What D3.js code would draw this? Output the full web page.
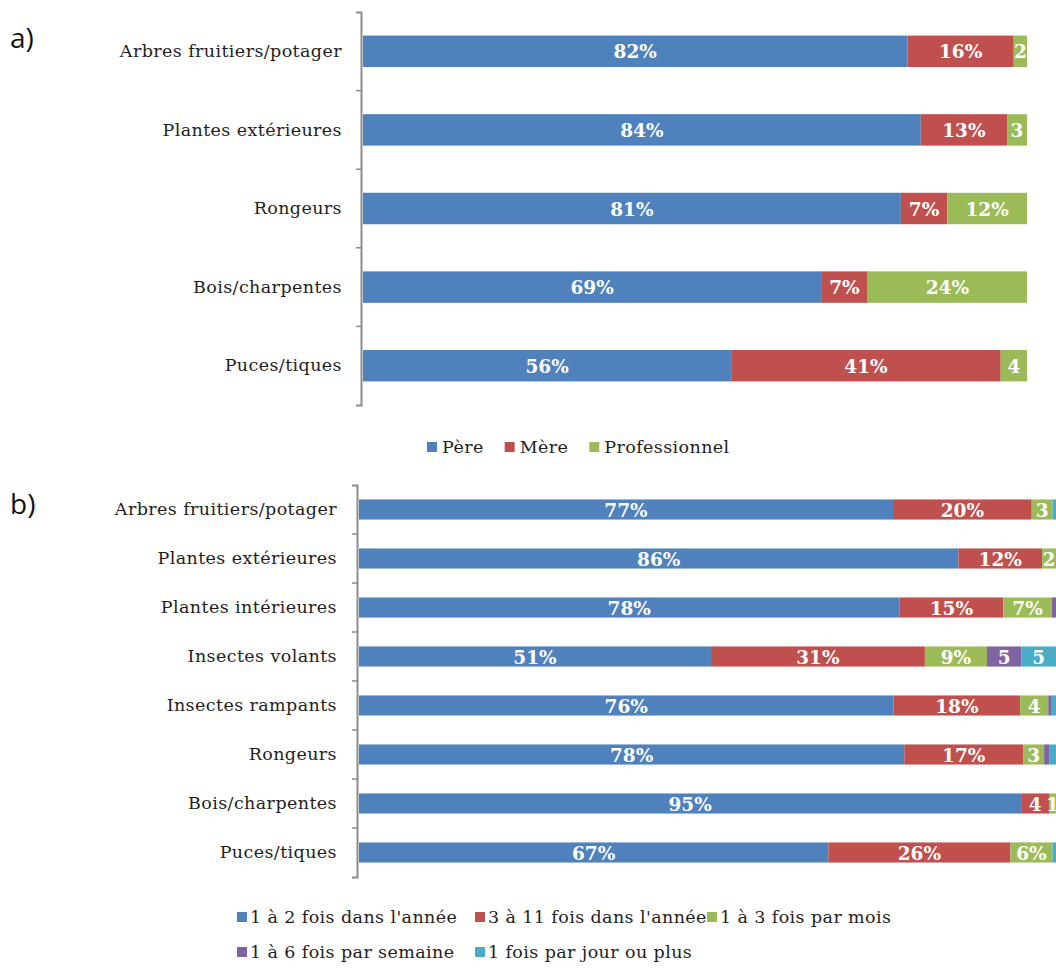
<!DOCTYPE html>
<meta charset="utf-8">
<style>
  body { margin: 0; background: #fff; }
  .seg-label { fill: #fff; font-family: "DejaVu Serif", serif; font-weight: bold; font-size: 18.5px; }
  .cat-axis text { fill: #1e1e1e; font-family: "DejaVu Serif", serif; font-size: 17.5px; letter-spacing: 0.4px; }
  .legend text { fill: #1e1e1e; font-family: "DejaVu Serif", serif; font-size: 17.5px; letter-spacing: 0.4px; }
  .panel-tag { font-family: "Open Sans", sans-serif; font-size: 28px; fill: #111; }
</style>
<svg width="1056" height="969"></svg>
<script src="https://cdnjs.cloudflare.com/ajax/libs/d3/7.8.5/d3.min.js"></script>
<script>
// panel a) : qui traite
var catsA = ["Arbres fruitiers/potager", "Plantes extérieures", "Rongeurs", "Bois/charpentes", "Puces/tiques"];
var seriesA = ["Père", "Mère", "Professionnel"];
var pereA = [82, 84, 81, 69, 56];
var mereA = [16, 13, 7, 7, 41];
var proA = [2, 3, 12, 24, 4];

// panel b) : frequence
var catsB = ["Arbres fruitiers/potager", "Plantes extérieures", "Plantes intérieures", "Insectes volants",
  "Insectes rampants", "Rongeurs", "Bois/charpentes", "Puces/tiques"];
var seriesB = ["1 à 2 fois dans l'année", "3 à 11 fois dans l'année", "1 à 3 fois par mois",
  "1 à 6 fois par semaine", "1 fois par jour ou plus"];
var freq1 = [77, 86, 78, 51, 76, 78, 95, 67];
var freq2 = [20, 12, 15, 31, 18, 17, 4, 26];
var freq3 = [3, 2, 7, 9, 4, 3, 1, 6];
var freq4 = [0, 0, 0.6, 5, 0.5, 0.8, 0, 0];
var freq5 = [0.5, 0, 0, 5, 0.6, 0.9, 0, 0.5];

var colors = ["#4F81BD", "#C0504D", "#9BBB59", "#8064A2", "#4BACC6"];

var svg = d3.select("svg");
svg.append("rect").attr("width", 1056).attr("height", 969).attr("fill", "#fff");

function panel(cfg) {
  var g = svg.append("g");
  var keys = cfg.series.map(function(d, j) { return "s" + j; });
  var rows = cfg.cats.map(function(c, i) {
    var r = {cat: c};
    keys.forEach(function(k, j) { r[k] = cfg.values[j][i]; });
    return r;
  });

  var y = d3.scaleBand()
    .domain(cfg.cats)
    .range([cfg.top, cfg.bottom])
    .paddingInner(cfg.pad)
    .paddingOuter(cfg.pad / 2);

  var x = d3.scaleLinear().domain([0, 1]).range([cfg.x0, cfg.x1]);

  var z = d3.scaleOrdinal().domain(keys).range(colors);

  var stacked = d3.stack().keys(keys).offset(d3.stackOffsetExpand)(rows);

  var layer = g.selectAll(".serie")
    .data(stacked)
    .enter().append("g")
    .attr("class", "serie")
    .attr("fill", function(d) { return z(d.key); });

  layer.selectAll("rect")
    .data(function(d) { return d; })
    .enter().append("rect")
    .attr("x", function(d) { return x(d[0]); })
    .attr("y", function(d) { return y(d.data.cat); })
    .attr("width", function(d) { return x(d[1]) - x(d[0]); })
    .attr("height", y.bandwidth());

  layer.selectAll("text")
    .data(function(d) { return d.map(function(p) { return {p: p, v: p.data[d.key]}; }); })
    .enter().append("text")
    .filter(function(d) { return d.v >= 1; })
    .attr("class", "seg-label")
    .attr("x", function(d) { return (x(d.p[0]) + x(d.p[1])) / 2; })
    .attr("y", function(d) { return y(d.p.data.cat) + y.bandwidth() / 2; })
    .attr("dy", "0.38em")
    .attr("text-anchor", "middle")
    .text(function(d) { return d.v >= 6 ? d.v + "%" : d.v; });

  var ax = g.append("g")
    .attr("class", "cat-axis")
    .attr("transform", "translate(" + cfg.axisX + ",0)")
    .call(d3.axisLeft(y).tickSize(0).tickSizeOuter(5).tickPadding(cfg.gap));
  ax.attr("font-family", null).attr("font-size", null);
  ax.select(".domain").attr("stroke", "#8c8c8c").attr("stroke-width", 2);

  // ticks between categories
  d3.range(1, cfg.cats.length).forEach(function(i) {
    var ty = cfg.top + i * y.step();
    ax.append("line")
      .attr("x1", -5).attr("x2", 0)
      .attr("y1", ty).attr("y2", ty)
      .attr("stroke", "#8c8c8c").attr("stroke-width", 1.5);
  });

  return z;
}

var zA = panel({
  cats: catsA, series: seriesA, values: [pereA, mereA, proA],
  top: 12, bottom: 405, pad: 0.6, x0: 363, x1: 1027, axisX: 361, gap: 19
});

var zB = panel({
  cats: catsB, series: seriesB, values: [freq1, freq2, freq3, freq4, freq5],
  top: 485, bottom: 877, pad: 0.59, x0: 359, x1: 1056, axisX: 357, gap: 20
});

svg.append("text").attr("class", "panel-tag").attr("x", 10).attr("y", 48).text("a)");
svg.append("text").attr("class", "panel-tag").attr("x", 10).attr("y", 514).text("b)");

// legend a
var legA = svg.append("g").attr("class", "legend");
var lx = 427;
seriesA.forEach(function(s, i) {
  legA.append("rect").attr("x", lx).attr("y", 442).attr("width", 10).attr("height", 10).attr("fill", colors[i]);
  var t = legA.append("text").attr("x", lx + 15).attr("y", 447).attr("dy", "0.35em").text(s);
  lx += 15 + t.node().getComputedTextLength() + 21;
});

// legend b
var legB = svg.append("g").attr("class", "legend");
var colX = [237, 475, 707];
var rowY = [917, 952];
seriesB.forEach(function(s, i) {
  var cx = colX[i % 3], cy = rowY[Math.floor(i / 3)];
  legB.append("rect").attr("x", cx).attr("y", cy - 5).attr("width", 10).attr("height", 10).attr("fill", colors[i]);
  legB.append("text").attr("x", cx + 13).attr("y", cy).attr("dy", "0.35em").text(s);
});
</script>
